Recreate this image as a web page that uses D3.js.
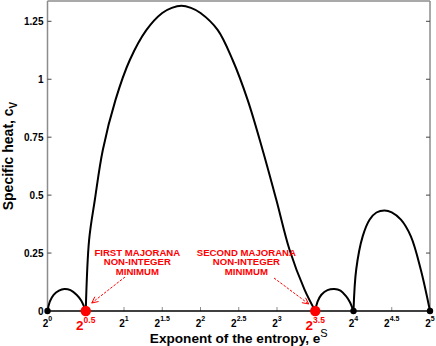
<!DOCTYPE html>
<html><head><meta charset="utf-8">
<script src="https://cdn.jsdelivr.net/npm/d3@7"></script>
<style>body{margin:0;background:#fff}svg{display:block}</style>
</head><body>
<script>
// ---- data (x = log2 of e^S, y = specific heat c_V) ----
const arch1E  = [0, 0.03, 0.08, 0.15, 0.22, 0.30, 0.38, 0.44, 0.5];
const arch1Cv = [0, 0.04, 0.07, 0.088, 0.095, 0.09, 0.07, 0.045, 0];
const arch2E  = [0.5, 0.544, 0.619, 0.723, 0.889, 1.076, 1.294, 1.5, 1.625, 1.75, 1.875, 2.0, 2.224, 2.42, 2.616, 2.812, 2.991, 3.164, 3.36, 3.5];
const arch2Cv = [0, 0.307, 0.48, 0.695, 0.911, 1.083, 1.213, 1.286, 1.308, 1.317, 1.308, 1.286, 1.213, 1.083, 0.911, 0.695, 0.48, 0.264, 0.092, 0];
const arch3E  = [3.5, 3.53, 3.58, 3.66, 3.75, 3.83, 3.9, 3.95, 4];
const arch3Cv = [0, 0.04, 0.07, 0.09, 0.095, 0.088, 0.065, 0.04, 0];
const arch4E  = [4, 4.035, 4.12, 4.21, 4.3, 4.405, 4.5, 4.62, 4.75, 4.88, 5];
const arch4Cv = [0, 0.178, 0.322, 0.394, 0.425, 0.434, 0.426, 0.394, 0.322, 0.178, 0];
const blackDotsE = [0, 4, 5];
const redDotsE = [0.5, 3.5];
const xTickE = [0, 0.5, 1, 1.5, 2, 2.5, 3, 3.5, 4, 4.5, 5];
const xTickLabels = ["0", "", "1", "1.5", "2", "2.5", "3", "", "4", "4.5", "5"];
const redTickLabels = ["0.5", "3.5"];
const yTicks = [0, 0.25, 0.5, 0.75, 1, 1.25];
const yTickLabels = ["0", "0.25", "0.5", "0.75", "1", "1.25"];
const annotLines = [["FIRST MAJORANA", "NON-INTEGER", "MINIMUM"], ["SECOND MAJORANA", "NON-INTEGER", "MINIMUM"]];
const annotE = [1.174, 2.6];

const W = 436, H = 346;
const FONT = "'Liberation Sans', Arial, Helvetica, sans-serif";
const L = 47.5, R = 430, T = 1, B = 311;
const x = d3.scaleLinear().domain([0, 5]).range([L, R]);
const y = d3.scaleLinear().domain([0, 1.3376]).range([B, T]);

const svg = d3.select("body").append("svg").attr("width", W).attr("height", H)
  .style("font-family", FONT);

const grey = "#8c8c8c";
// frame
svg.append("line").attr("x1", L).attr("x2", L).attr("y1", T).attr("y2", B).attr("stroke", grey).attr("stroke-width", 1.5);
svg.append("line").attr("x1", R).attr("x2", R).attr("y1", T).attr("y2", B).attr("stroke", grey).attr("stroke-width", 1.5);
svg.append("line").attr("x1", L).attr("x2", R).attr("y1", T).attr("y2", T).attr("stroke", grey).attr("stroke-width", 1.5);

// y ticks (left and right, inward)
yTicks.forEach((v, i) => {
  if (i > 0) {
    svg.append("line").attr("x1", L).attr("x2", L + 4).attr("y1", y(v)).attr("y2", y(v)).attr("stroke", "#444").attr("stroke-width", 1);
    svg.append("line").attr("x1", R - 4).attr("x2", R).attr("y1", y(v)).attr("y2", y(v)).attr("stroke", "#444").attr("stroke-width", 1);
  }
  svg.append("text").attr("x", L - 4).attr("y", y(v)).attr("dy", "0.35em")
    .attr("text-anchor", "end").attr("font-size", 10).attr("font-weight", "bold")
    .text(yTickLabels[i]);
});

// x ticks (upward)
xTickE.forEach((e, i) => {
  if (e > 0 && e < 5) {
    svg.append("line").attr("x1", x(e)).attr("x2", x(e)).attr("y1", B).attr("y2", B - 4).attr("stroke", grey).attr("stroke-width", 1);
  }
  if (xTickLabels[i] !== "") {
    const t = svg.append("text").attr("x", x(e)).attr("y", 326.5).attr("text-anchor", "middle")
      .attr("font-weight", "bold").attr("font-size", 10);
    t.append("tspan").text("2");
    t.append("tspan").attr("font-size", 7).attr("dy", -5.5).text(xTickLabels[i]);
  }
});
// red tick labels
redDotsE.forEach((e, i) => {
  const t = svg.append("text").attr("x", x(e)).attr("y", 329.5).attr("text-anchor", "middle")
    .attr("font-weight", "bold").attr("font-size", 13.5).attr("fill", "#ff0000");
  t.append("tspan").text("2");
  t.append("tspan").attr("font-size", 8.5).attr("dy", -7).text(redTickLabels[i]);
});

// x axis line
svg.append("line").attr("x1", L).attr("x2", R).attr("y1", B).attr("y2", B).attr("stroke", "#000").attr("stroke-width", 1.5);

// curves
const line = d3.line().x(d => x(d[0])).y(d => y(d[1])).curve(d3.curveCatmullRom.alpha(0.5));
[[arch1E, arch1Cv], [arch2E, arch2Cv], [arch3E, arch3Cv], [arch4E, arch4Cv]].forEach(([es, cs]) => {
  svg.append("path").datum(es.map((e, i) => [e, cs[i]])).attr("d", line)
    .attr("fill", "none").attr("stroke", "#000").attr("stroke-width", 2);
});

// dots
blackDotsE.forEach(e => svg.append("circle").attr("cx", x(e)).attr("cy", y(0)).attr("r", 3.2).attr("fill", "#000"));
redDotsE.forEach(e => svg.append("circle").attr("cx", x(e)).attr("cy", y(0)).attr("r", 5.2).attr("fill", "#ff0000"));

// annotations
const rowY = [255.5, 265.2, 274.9];
annotLines.forEach((lines, k) => {
  lines.forEach((s, j) => {
    svg.append("text").attr("x", x(annotE[k])).attr("y", rowY[j]).attr("text-anchor", "middle")
      .attr("font-size", 9.6).attr("font-weight", "bold").attr("fill", "#ff0000").text(s);
  });
});
// arrows
const arrows = [[[125, 277], [x(redDotsE[0]) + 6, B - 8]], [[274, 278], [x(redDotsE[1]) - 6.5, B - 7]]];
arrows.forEach(([s, t]) => {
  svg.append("line").attr("x1", s[0]).attr("y1", s[1]).attr("x2", t[0]).attr("y2", t[1])
    .attr("stroke", "#ff0000").attr("stroke-width", 1).attr("stroke-dasharray", "2.5,1.5");
  const ang = Math.atan2(t[1] - s[1], t[0] - s[0]);
  const len = 7, spread = 0.45;
  const p1 = [t[0] - len * Math.cos(ang - spread), t[1] - len * Math.sin(ang - spread)];
  const p2 = [t[0] - len * Math.cos(ang + spread), t[1] - len * Math.sin(ang + spread)];
  svg.append("path").attr("d", `M${p1[0]},${p1[1]}L${t[0]},${t[1]}L${p2[0]},${p2[1]}`)
    .attr("fill", "none").attr("stroke", "#ff0000").attr("stroke-width", 1);
});

// axis titles
const xt = svg.append("text").attr("x", (L + R) / 2).attr("y", 342.5).attr("text-anchor", "middle")
  .attr("font-size", 13.6).attr("font-weight", "bold");
xt.append("tspan").text("Exponent of the entropy, e");
xt.append("tspan").attr("font-size", 11).attr("font-weight", "normal").attr("dy", -6).text("S");

const yt = svg.append("text").attr("transform", `translate(12.7,${(T + B) / 2}) rotate(-90)`)
  .attr("text-anchor", "middle").attr("font-size", 14).attr("font-weight", "bold");
yt.append("tspan").text("Specific heat, c");
yt.append("tspan").attr("font-size", 10).attr("dy", 4).text("V");
</script>
</body></html>
